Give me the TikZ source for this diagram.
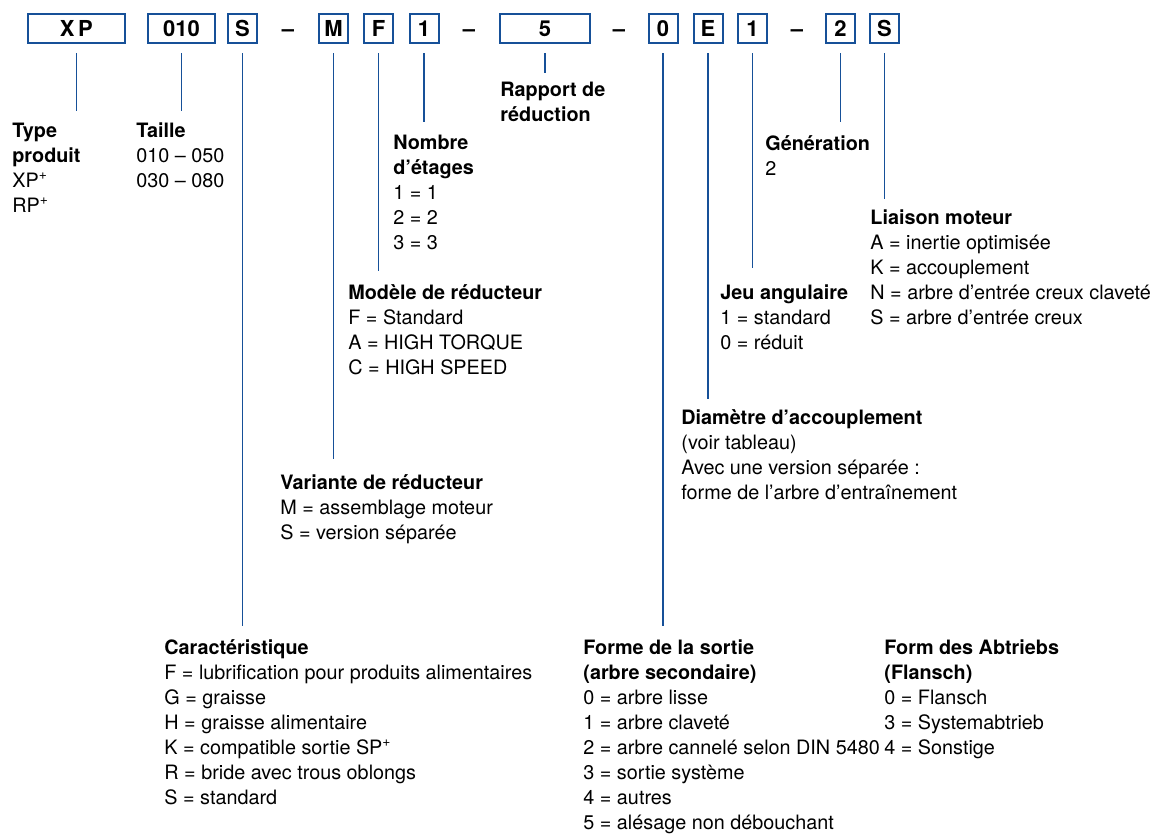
\documentclass[tikz,border=0pt]{standalone}
\usepackage{fontspec}
\setmainfont{TeX Gyre Heros}
\usepackage{tikz}

\definecolor{bleu}{RGB}{22,80,152}

\tikzset{
  code/.style={draw=bleu, line width=1pt, fill=white, minimum height=14.5pt, inner sep=0pt,
    font=\fontsize{11}{13}\selectfont\bfseries},
  tiret/.style={anchor=base, inner sep=0pt, font=\fontsize{11}{13}\selectfont\bfseries},
  lien/.style={draw=bleu, line width=0.8pt},
  % ancre sur la ligne de base de la derniere ligne
  legende/.style={anchor=base west, align=left, inner sep=0pt, font=\fontsize{9.9}{12.5}\selectfont},
}

\begin{document}
\begin{tikzpicture}[x=0.5pt,y=-0.5pt]
  \useasboundingbox (0,0) rectangle (1162,835);

  % code de commande
  \node[code, minimum width=48.5pt] (xp) at (76.3,28.5) {X\,P};
  \node[code, minimum width=33.5pt] (taille) at (181.5,28.5) {010};
  \node[code, minimum width=14.5pt] (carac) at (242.5,28.5) {S};
  \node[tiret] (t1) at (288,36.5) {--};
  \node[code, minimum width=14.5pt] (variante) at (333.5,28.5) {M};
  \node[code, minimum width=14.5pt] (modele) at (378.5,28.5) {F};
  \node[code, minimum width=14.5pt] (etages) at (424,28.5) {1};
  \node[tiret] (t2) at (469,36.5) {--};
  \node[code, minimum width=45pt] (rapport) at (545,28.5) {5};
  \node[tiret] (t3) at (619,36.5) {--};
  \node[code, minimum width=14.5pt] (sortie) at (663,28.5) {0};
  \node[code, minimum width=14.5pt] (diametre) at (708,28.5) {E};
  \node[code, minimum width=14.5pt] (jeu) at (752.5,28.5) {1};
  \node[tiret] (t4) at (797,36.5) {--};
  \node[code, minimum width=14.5pt] (generation) at (840.5,28.5) {2};
  \node[code, minimum width=14.5pt] (liaison) at (884.5,28.5) {S};

  % traits de rappel
  \draw[lien] ([yshift=-4.5pt]xp.south) -- (xp.south |- 0,111);
  \draw[lien] ([yshift=-4.5pt]taille.south) -- (taille.south |- 0,111);
  \draw[lien] ([yshift=-4.5pt]carac.south) -- (carac.south |- 0,626);
  \draw[lien] ([yshift=-4.5pt]variante.south) -- (variante.south |- 0,459);
  \draw[lien] ([yshift=-4.5pt]modele.south) -- (modele.south |- 0,271);
  \draw[lien] ([yshift=-4.5pt]etages.south) -- (etages.south |- 0,122);
  \draw[lien] ([yshift=-4.5pt]rapport.south) -- (rapport.south |- 0,73);
  \draw[lien] ([yshift=-4.5pt]sortie.south) -- (sortie.south |- 0,626);
  \draw[lien] ([yshift=-4.5pt]diametre.south) -- (diametre.south |- 0,399);
  \draw[lien] ([yshift=-4.5pt]jeu.south) -- (jeu.south |- 0,268);
  \draw[lien] ([yshift=-4.5pt]generation.south) -- (generation.south |- 0,122);
  \draw[lien] ([yshift=-4.5pt]liaison.south) -- (liaison.south |- 0,199);

  % legendes
  \node[legende] (l-type) at (12,212) {\textbf{Type}\\\textbf{produit}\\XP\textsuperscript{+}\\RP\textsuperscript{+}};
  \node[legende] (l-taille) at (136,187) {\textbf{Taille}\\010 -- 050\\030 -- 080};
  \node[legende] (l-rapport) at (500,121) {\textbf{Rapport de}\\\textbf{réduction}};
  \node[legende] (l-etages) at (393,249) {\textbf{Nombre}\\\textbf{d’étages}\\1 = 1\\2 = 2\\3 = 3};
  \node[legende] (l-modele) at (348,374) {\textbf{Modèle de réducteur}\\F = Standard\\A = HIGH TORQUE\\C = HIGH SPEED};
  \node[legende] (l-variante) at (280,539) {\textbf{Variante de réducteur}\\M = assemblage moteur\\S = version séparée};
  \node[legende] (l-carac) at (164,804) {\textbf{Caractéristique}\\F = lubrification pour produits alimentaires\\G = graisse\\H = graisse alimentaire\\K = compatible sortie SP\textsuperscript{+}\\R = bride avec trous oblongs\\S = standard};
  \node[legende] (l-generation) at (765,175) {\textbf{Génération}\\2};
  \node[legende] (l-liaison) at (870,324) {\textbf{Liaison moteur}\\A = inertie optimisée\\K = accouplement\\N = arbre d’entrée creux claveté\\S = arbre d’entrée creux};
  \node[legende] (l-jeu) at (720,349) {\textbf{Jeu angulaire}\\1 = standard\\0 = réduit};
  \node[legende] (l-diametre) at (681,499) {\textbf{Diamètre d’accouplement}\\(voir tableau)\\Avec une version séparée :\\forme de l’arbre d’entraînement};
  \node[legende] (l-sortie) at (583,829) {\textbf{Forme de la sortie}\\\textbf{(arbre secondaire)}\\0 = arbre lisse\\1 = arbre claveté\\2 = arbre cannelé selon DIN 5480\\3 = sortie système\\4 = autres\\5 = alésage non débouchant};
  \node[legende] (l-flansch) at (884,754) {\textbf{Form des Abtriebs}\\\textbf{(Flansch)}\\0 = Flansch\\3 = Systemabtrieb\\4 = Sonstige};
\end{tikzpicture}
\end{document}
